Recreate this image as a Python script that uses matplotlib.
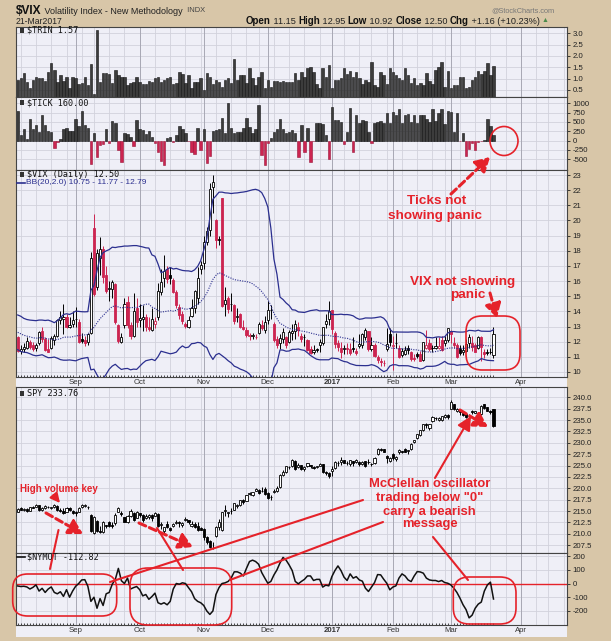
import numpy as np
import pandas as pd
import matplotlib
matplotlib.use("Agg")
import matplotlib.pyplot as plt
from matplotlib.patches import Ellipse, FancyBboxPatch, Rectangle

plt.rcParams['font.family'] = ['Liberation Sans', 'DejaVu Sans']

# trading calendar (bars are placed by trading-day index, like StockCharts)
holidays = ['2016-09-05', '2016-11-24', '2016-12-26', '2017-01-02',
            '2017-01-16', '2017-02-20', '2017-04-14']
days = pd.bdate_range('2016-08-05', '2017-04-28')
days = days[~days.isin(pd.to_datetime(holidays))]

trin = [
    0.94, 1.01, 1.24, 0.87, 0.57, 0.94, 1.09, 1.01, 1.05, 0.90,
    1.31, 1.68, 1.38, 0.84, 1.16, 0.90, 1.09, 0.57, 1.09, 1.05,
    0.75, 0.79, 1.09, 0.72, 1.63, 0.31, 3.15, 0.87, 1.24, 1.24,
    1.20, 0.79, 1.38, 1.16, 1.09, 1.09, 0.72, 0.79, 0.87, 1.09,
    0.87, 0.75, 0.75, 0.90, 0.87, 1.01, 1.09, 0.87, 0.94, 1.01,
    1.09, 0.75, 0.79, 1.31, 1.20, 0.79, 1.16, 0.57, 0.87, 0.87,
    1.01, 0.50, 1.24, 1.09, 0.75, 0.94, 0.87, 0.65, 0.94, 1.01,
    0.79, 1.87, 0.94, 1.16, 1.16, 0.79, 1.46, 1.01, 0.72, 1.09,
    1.28, 0.57, 0.94, 0.65, 0.90, 0.90, 0.84, 0.90, 0.84, 0.87,
    0.84, 1.24, 0.94, 1.31, 1.09, 1.48, 1.53, 1.31, 0.75, 0.57,
    1.46, 1.09, 1.60, 0.57, 0.94, 0.94, 1.05, 1.46, 1.20, 1.34,
    1.09, 1.31, 1.01, 0.75, 0.94, 0.87, 1.72, 0.72, 0.65, 1.31,
    1.16, 0.75, 1.46, 1.31, 1.16, 1.01, 0.94, 1.46, 1.16, 0.79,
    1.05, 0.72, 0.79, 0.72, 1.24, 0.90, 0.75, 1.38, 1.53, 1.72,
    0.65, 1.34, 0.57, 0.72, 0.72, 1.09, 1.09, 0.57, 0.65, 0.94,
    1.09, 1.34, 1.20, 1.34, 1.68, 1.16, 1.57]

tick = [
    800, 150, 300, 50, 580, 300, 420, 230, 680, 420,
    260, 220, -200, -30, 50, 320, 340, 250, 260, 580,
    400, 800, 430, 330, -620, 200, -450, -120, -100, 300,
    -50, 530, 460, -250, -560, 200, 170, 100, -150, 560,
    300, 280, 180, 270, 110, -50, -300, -550, -650, 60,
    100, -30, 160, 380, 300, 200, -20, -300, -350, 340,
    -250, 300, -600, -400, 260, 280, 300, 600, 200, 1000,
    330, 200, 230, 230, 330, 600, 370, 200, 310, 960,
    -380, -650, -60, 60, 230, 300, 590, 310, 200, 230,
    280, 200, -450, 410, -300, 330, -560, -20, 480, 460,
    450, 150, -500, 890, 550, 560, 500, -100, 240, 870,
    -300, 680, 480, 560, 540, 220, -60, 480, 500, 530,
    470, 730, 470, 770, 680, 860, 480, 700, 720, 500,
    700, 480, 690, 700, 580, 500, 840, 520, 750, 850,
    440, 800, 780, 220, 750, -20, 200, -400, -220, -50,
    -260, -30, -20, 30, 590, 380, 160]

# VIX closes before the first bar (needed for the 20-day Bollinger bands)
vix_pre = [13.54, 13.55, 13.04, 12.82, 12.67, 12.44, 11.97, 11.77, 12.74, 12.02,
           12.87, 13.05, 12.83, 12.72, 11.87, 12.44, 13.37, 12.86, 12.42]

vix_open = [
    12.3, 11.4, 11.5, 11.6, 12.0, 11.8, 11.6, 11.9, 12.7, 12.2, 11.5, 11.6, 12.1, 12.4, 13.4, 13.5, 13.6, 13.0, 13.2,
    13.5, 13.3, 12.2, 12.1, 12.0, 12.6, 19.5, 15.6, 17.5, 18.1, 16.4, 15.5, 15.5, 15.8, 13.1, 12.0, 13.1, 14.6, 13.1, 12.4, 14.2,
    13.4, 13.5, 13.6, 13.0, 12.8, 13.2, 13.6, 15.3, 16.2, 16.8, 16.4, 16.1, 15.3, 14.3, 13.8, 13.2, 13.0, 13.7, 14.2, 14.9, 16.8,
    17.2, 18.6, 19.4, 22.2, 20.0, 18.8, 21.5, 14.5, 14.9, 14.5, 14.4, 13.6, 13.8, 13.0, 12.8, 12.4, 12.4, 12.3, 12.6, 13.1, 12.8,
    13.4, 14.1, 13.2, 12.2, 11.9, 12.2, 12.3, 12.0, 12.6, 12.7, 13.0, 12.4, 12.3, 12.1, 11.5, 11.3, 11.5, 11.8, 11.9, 13.2, 13.5,
    14.1, 12.6, 11.9, 11.6, 11.5, 11.6, 11.5, 11.6, 11.4, 11.7, 11.8, 12.3, 12.7, 11.5, 11.8, 11.0, 10.7, 10.6, 11.5, 12.5,
    11.7, 11.9, 11.6, 11.1, 11.2, 11.6, 11.3, 10.9, 11.2, 11.2, 10.8, 11.6, 11.9, 11.6, 11.6, 11.6, 12.1, 11.9, 12.1,
    12.7, 11.9, 11.8, 11.5, 11.3, 11.4, 11.9, 11.9, 11.8, 11.6, 12.3, 11.3, 11.3, 11.3, 11.15]
vix_high = [
    12.4, 11.8, 11.9, 12.3, 12.1, 12.0, 11.9, 12.7, 13.0, 12.3, 12.2, 12.4, 12.5, 13.5, 14.0, 14.5, 13.8, 13.6, 14.0,
    14.3, 13.5, 12.6, 12.4, 12.6, 17.9, 20.4, 18.1, 18.9, 18.3, 17.0, 16.0, 16.1, 15.9, 13.2, 12.6, 14.9, 15.0, 13.3, 15.2, 14.9,
    14.5, 14.4, 13.8, 13.6, 14.2, 13.6, 15.9, 16.8, 17.7, 17.0, 16.9, 16.2, 15.4, 14.5, 14.0, 13.3, 13.7, 14.8, 15.4, 16.9, 17.3,
    19.0, 19.6, 22.5, 23.0, 20.1, 19.0, 21.5, 15.6, 15.0, 15.2, 14.5, 14.2, 13.9, 13.4, 13.0, 12.6, 12.6, 12.5, 13.3, 13.4, 13.7,
    14.7, 14.4, 13.3, 12.4, 12.5, 12.9, 12.4, 12.8, 13.2, 13.4, 13.3, 12.6, 12.5, 12.2, 11.7, 11.8, 11.6, 12.2, 13.0, 13.8, 14.7,
    14.1, 12.7, 12.1, 12.0, 11.8, 11.9, 11.9, 12.3, 11.6, 12.5, 12.6, 12.9, 12.7, 12.3, 11.9, 11.1, 10.9, 10.8, 12.9, 12.9,
    12.4, 12.6, 11.8, 11.6, 11.7, 11.8, 11.4, 11.2, 11.3, 11.4, 12.0, 12.8, 12.2, 11.8, 12.3, 12.3, 12.4, 12.4, 12.9,
    12.8, 12.3, 11.9, 11.8, 11.8, 12.2, 12.5, 12.4, 11.9, 12.4, 12.4, 11.5, 11.5, 11.6, 12.95]
vix_low = [
    11.3, 11.2, 11.3, 11.5, 11.5, 11.4, 11.4, 11.8, 12.0, 11.4, 11.3, 11.5, 11.8, 12.3, 13.2, 12.5, 12.9, 12.9, 13.0,
    13.0, 11.9, 11.9, 11.7, 11.8, 12.5, 15.0, 15.4, 16.4, 15.9, 15.2, 14.7, 14.9, 13.2, 11.9, 11.9, 12.9, 12.9, 12.2, 12.3, 13.0,
    13.0, 12.7, 12.7, 12.7, 12.7, 12.9, 13.4, 15.1, 15.6, 15.9, 15.8, 15.2, 14.2, 13.5, 13.2, 12.9, 12.9, 13.6, 13.9, 14.5, 16.5,
    16.8, 18.4, 19.0, 20.5, 18.2, 18.4, 14.3, 13.7, 13.9, 14.0, 13.2, 13.3, 12.9, 12.8, 12.3, 12.1, 12.2, 12.2, 12.5, 12.8, 12.6,
    13.2, 13.5, 12.0, 11.6, 11.5, 11.9, 11.6, 11.9, 12.1, 12.2, 12.4, 12.0, 11.7, 11.4, 11.2, 11.2, 11.3, 11.3, 11.8, 12.9, 13.1,
    12.5, 11.6, 11.4, 10.9, 11.2, 11.2, 11.1, 11.3, 11.1, 11.6, 11.6, 12.1, 11.4, 11.4, 11.0, 10.6, 10.4, 10.4, 11.4, 11.7,
    10.1, 11.6, 10.9, 11.0, 11.1, 11.2, 10.7, 10.7, 10.9, 10.7, 10.7, 11.5, 11.4, 11.3, 11.5, 11.5, 11.4, 11.7, 12.0,
    11.9, 11.6, 10.9, 11.1, 11.1, 11.3, 11.6, 11.4, 11.3, 11.5, 10.7, 10.9, 11.1, 11.2, 10.92]
vix_close = [
    11.39, 11.50, 11.66, 12.05, 11.68, 11.55, 11.81, 12.64, 12.19, 11.43, 11.34, 12.27, 12.38, 13.45, 13.63, 13.65, 12.94, 13.12, 13.42,
    13.48, 11.98, 12.02, 11.94, 12.51, 17.50, 15.16, 17.85, 18.14, 16.30, 15.37, 15.53, 15.92, 13.30, 12.02, 12.29, 14.50, 13.10, 12.39, 14.02, 13.29,
    13.57, 13.63, 12.99, 12.84, 13.48, 13.38, 15.36, 15.91, 16.69, 16.12, 16.21, 15.28, 14.41, 13.75, 13.34, 13.02, 13.46, 14.24, 15.36, 16.19, 17.06,
    18.56, 19.32, 22.08, 22.51, 18.71, 18.74, 14.38, 14.74, 14.17, 14.48, 13.37, 13.72, 12.96, 12.85, 12.42, 12.41, 12.43, 12.34, 13.15, 12.90, 13.33,
    14.07, 14.12, 12.14, 11.79, 12.22, 12.64, 11.75, 12.64, 12.72, 13.19, 12.79, 12.20, 12.29, 11.45, 11.27, 11.43, 11.44, 11.99, 12.95, 13.37, 14.04,
    12.85, 11.85, 11.67, 11.32, 11.56, 11.49, 11.26, 11.54, 11.23, 11.87, 12.48, 12.78, 11.54, 11.77, 11.07, 10.81, 10.63, 10.58, 11.88, 11.99,
    11.81, 11.93, 10.97, 11.37, 11.45, 11.45, 10.88, 10.85, 11.07, 10.74, 11.97, 11.76, 11.49, 11.57, 11.74, 11.71, 11.47, 12.09, 12.92,
    12.54, 11.81, 10.96, 11.24, 11.45, 11.86, 12.30, 11.66, 11.35, 12.30, 11.63, 11.21, 11.28, 11.34, 12.50]

spy_open = [
    214.9, 215.6, 215.3, 215.5, 215.1, 215.9, 215.9, 216.3, 215.2, 215.6, 216.0, 215.6, 215.8, 216.2, 215.2, 215.1, 214.9, 215.6, 215.1,
    214.9, 214.8, 215.8, 216.1, 216.0, 214.2, 210.2, 212.9, 210.6, 210.4, 211.9, 212.5, 212.0, 212.4, 214.9, 214.6, 213.7, 212.7, 214.0, 214.6, 213.5,
    214.5, 214.1, 213.4, 213.8, 214.1, 214.0, 214.4, 211.9, 210.6, 212.1, 211.3, 211.8, 212.3, 212.5, 212.0, 213.1, 213.0, 211.8, 212.2, 211.8, 211.3,
    211.1, 209.3, 208.4, 207.0, 209.6, 211.4, 210.9, 215.0, 214.5, 215.0, 215.3, 216.1, 216.3, 217.4, 217.3, 218.8, 218.6, 219.5, 219.6, 219.4, 219.9,
    218.9, 218.0, 219.2, 219.5, 220.2, 222.9, 223.6, 224.6, 224.8, 226.1, 224.6, 225.1, 224.2, 224.8, 225.2, 224.6, 224.6, 225.0, 225.3, 223.5, 223.4,
    223.8, 224.4, 225.6, 225.7, 226.2, 225.6, 225.4, 225.9, 225.8, 225.8, 225.4, 225.9, 225.7, 225.4, 225.6, 227.5, 228.7, 228.6, 227.2, 226.1,
    227.6, 226.4, 227.9, 228.1, 228.6, 228.1, 228.6, 230.2, 231.0, 231.8, 232.8, 234.1, 233.3, 234.8, 235.4, 235.0, 234.9, 235.6, 236.0,
    237.5, 238.5, 237.0, 236.9, 236.6, 236.3, 235.8, 236.9, 236.6, 236.5, 236.3, 238.6, 237.9, 237.0, 237.4]
spy_high = [
    215.7, 215.8, 215.6, 215.6, 216.0, 216.1, 216.6, 216.4, 215.8, 216.3, 216.2, 216.0, 216.5, 216.3, 215.7, 215.6, 215.9, 215.9, 215.2,
    215.0, 215.8, 216.6, 216.5, 216.2, 214.3, 213.9, 213.0, 211.8, 212.9, 212.0, 212.9, 212.6, 214.5, 215.8, 215.0, 213.8, 214.1, 215.4, 214.7, 215.1,
    214.6, 214.3, 214.3, 214.3, 214.3, 214.9, 214.5, 212.6, 211.6, 212.8, 211.6, 212.3, 213.0, 212.8, 212.5, 213.6, 213.1, 212.9, 212.6, 212.5, 211.5,
    211.3, 209.6, 208.6, 208.2, 211.7, 213.3, 214.9, 216.3, 214.9, 215.6, 216.8, 216.5, 217.5, 217.6, 218.6, 219.3, 219.2, 220.0, 219.9, 220.2, 220.3,
    219.1, 218.5, 219.8, 220.6, 223.1, 224.1, 225.0, 225.0, 226.5, 226.2, 225.6, 225.2, 225.0, 225.6, 225.2, 224.8, 224.9, 225.6, 225.4, 223.8, 223.6,
    224.9, 225.9, 225.9, 226.8, 226.3, 226.0, 226.3, 226.0, 226.4, 226.0, 226.0, 226.0, 226.4, 225.6, 226.9, 228.8, 228.8, 228.7, 227.3, 226.8,
    227.7, 227.0, 228.6, 228.3, 228.8, 228.5, 230.0, 230.7, 232.0, 232.9, 234.1, 234.3, 234.2, 235.8, 235.6, 235.7, 235.9, 236.3, 236.3,
    239.3, 238.5, 237.6, 237.1, 236.8, 236.5, 236.4, 237.1, 237.0, 236.5, 238.3, 238.6, 237.9, 237.2, 237.4]
spy_low = [
    214.8, 215.2, 215.0, 214.8, 215.0, 215.6, 215.8, 215.1, 215.0, 215.4, 215.7, 215.4, 215.7, 215.0, 214.8, 214.4, 214.8, 215.1, 214.4,
    213.9, 214.7, 215.6, 215.8, 215.4, 210.5, 210.0, 210.4, 210.3, 210.2, 211.3, 211.6, 211.3, 211.9, 214.8, 214.0, 212.5, 212.4, 213.8, 212.8, 213.4,
    213.6, 212.7, 213.3, 213.3, 212.9, 213.9, 211.5, 211.1, 209.9, 211.3, 210.6, 211.6, 212.1, 211.6, 211.6, 212.9, 212.1, 211.4, 211.3, 210.6, 210.8,
    208.6, 207.8, 206.9, 206.7, 209.4, 210.9, 210.7, 214.0, 213.6, 214.3, 215.2, 215.7, 216.1, 216.6, 217.3, 218.5, 218.3, 219.4, 218.7, 219.2, 218.6,
    217.6, 217.5, 219.0, 219.3, 220.1, 222.6, 223.4, 224.2, 224.6, 224.0, 224.5, 224.0, 223.9, 224.7, 224.5, 224.2, 224.5, 224.8, 223.4, 222.9, 222.2,
    222.8, 224.3, 225.0, 225.1, 225.5, 225.1, 225.0, 224.9, 225.6, 225.0, 225.2, 224.7, 225.3, 224.9, 225.4, 227.4, 228.1, 227.9, 225.6, 225.8,
    226.2, 226.0, 227.6, 227.7, 227.9, 227.6, 228.5, 229.9, 230.8, 231.4, 232.6, 233.2, 232.9, 234.6, 235.1, 234.8, 234.8, 235.5, 235.3,
    237.4, 237.1, 236.8, 236.1, 235.9, 235.4, 235.2, 236.3, 236.5, 235.7, 236.2, 237.4, 236.9, 236.4, 233.5]
spy_close = [
    215.50, 215.35, 215.48, 214.94, 215.95, 215.76, 216.39, 215.26, 215.67, 216.16, 215.84, 215.83, 216.27, 215.15, 215.00, 214.59, 215.66, 215.30, 214.68,
    214.69, 215.67, 216.33, 216.31, 215.81, 210.58, 213.64, 210.53, 210.45, 212.58, 211.77, 211.81, 211.82, 214.22, 215.58, 214.39, 212.64, 213.97, 215.04, 213.08, 214.70,
    214.18, 213.08, 214.03, 214.18, 213.44, 214.56, 211.83, 212.11, 211.41, 211.52, 210.78, 212.11, 212.68, 212.28, 212.38, 213.29, 212.57, 212.14, 211.57, 210.94, 210.95,
    209.41, 208.14, 207.18, 206.95, 211.55, 212.51, 214.78, 215.32, 214.82, 214.99, 216.68, 216.27, 217.39, 216.90, 218.55, 218.98, 219.10, 219.92, 218.88, 219.31, 218.78,
    217.97, 218.08, 219.40, 220.10, 223.00, 223.55, 224.91, 224.65, 226.16, 224.28, 225.21, 224.14, 224.63, 225.50, 224.87, 224.48, 224.81, 225.37, 223.50, 223.45, 222.63,
    224.34, 225.68, 225.50, 226.31, 225.56, 225.56, 226.20, 225.63, 226.15, 225.35, 225.85, 225.01, 225.84, 225.25, 226.70, 228.67, 228.43, 228.07, 226.65, 226.63,
    226.72, 226.87, 228.44, 228.03, 228.04, 228.34, 229.70, 230.61, 231.87, 232.80, 234.02, 233.82, 234.19, 235.59, 235.38, 235.54, 235.84, 236.21, 235.57,
    238.88, 237.37, 237.52, 236.81, 236.10, 235.66, 235.96, 236.79, 236.91, 236.00, 238.05, 237.58, 237.03, 236.77, 233.76]

nymot = [
    -18, -22, -20, -25, -40, -28, -10, -55, -35, -65,
    -40, -25, -65, -75, -60, -94, -45, -100, -55, -20,
    0, 26, 28, -20, -130, -100, -180, -110, -160, -75,
    -65, -5, 30, 110, 20, 0, 40, -40, -30, -22,
    -45, -90, -80, -115, -95, -70, -140, -150, -140, -155,
    -130, -40, 0, -5, 5, 0, -30, -60, -110, -130,
    -140, -160, -200, -225, -200, -80, -30, 0, 5, 15,
    40, 85, 85, 75, 55, 110, 160, 170, 160, 140,
    80, 40, 2, 15, 62, 99, 150, 190, 170, 135,
    94, 15, -2, 15, 30, 55, 55, 22, 30, 30,
    -26, -12, -17, 50, 94, 128, 94, 46, 22, 70,
    39, 50, 26, 17, -34, -58, -26, 7, 65, 63,
    31, 2, -46, -26, -17, 39, 70, 55, 26, 14,
    55, 87, 84, 75, 39, 26, 22, 22, 14, 22,
    7, 2, -10, -34, -65, -106, -154, -190, -250, -230,
    -180, -150, -135, -55, -10, 10, -112.82]

# ---------------------------------------------------------------- styling
W, H = 611, 641
L, R = 16, 567
TAN = '#d8c6a8'
PANEL = '#efeff7'
GRID = '#d2d2dc'
GRID_DARK = '#a8a8b4'
RED = '#e5222a'
CRIMSON = '#cc2450'
NAVY = '#2b2f8f'

x = np.arange(len(vix_close))
month_pos = [i for i in range(1, len(days)) if days[i].month != days[i - 1].month]
month_lab = ['2017' if days[i].month == 1 else days[i].strftime('%b') for i in month_pos]
week_pos = [i for i in range(1, len(days)) if days[i].weekday() < days[i - 1].weekday()]

fig = plt.figure(figsize=(W / 100, H / 100), dpi=100, facecolor=TAN)

# light strips behind the month-label rows
for top, bot in [(377, 388), (625, 637)]:
    fig.add_artist(Rectangle((L / W, 1 - bot / H), (R - L) / W, (bot - top) / H,
                             transform=fig.transFigure, facecolor=PANEL,
                             edgecolor='none', zorder=-1))


def panel(top, bottom, ylim, yticks, fmt):
    ax = fig.add_axes([L / W, 1 - bottom / H, (R - L) / W, (bottom - top) / H])
    ax.set_facecolor(PANEL)
    ax.set_xlim(-0.56, 180.1)
    ax.set_ylim(*ylim)
    ax.yaxis.tick_right()
    ax.set_yticks(yticks)
    ax.set_yticklabels([fmt.format(v) for v in yticks])
    ax.tick_params(axis='y', direction='out', length=2.5, width=0.6, pad=1.5,
                   labelsize=5.6, colors='#222222')
    ax.set_xticks([])
    for v in yticks:
        ax.axhline(v, color=GRID, lw=0.6, zorder=0)
    for i in week_pos:
        ax.axvline(i, color=GRID, lw=0.6, zorder=0)
    for i in month_pos:
        ax.axvline(i, color=GRID_DARK, lw=0.7, zorder=0)
    for s in ax.spines.values():
        s.set_color('#444444')
        s.set_linewidth(0.8)
    return ax


def month_axis(ax):
    ax.set_xticks(month_pos)
    ax.set_xticklabels(month_lab)
    ax.tick_params(axis='x', length=0, pad=1.8, labelsize=5.6, colors='#333333')
    ax.get_xticklabels()[month_lab.index('2017')].set_fontweight('bold')
    ax.set_xticks(x, minor=True)
    ax.tick_params(axis='x', which='minor', direction='in', length=1.5, width=0.5)


def candles(ax, o, h, l, c, edge, face):
    o, h, l, c = map(np.asarray, (o, h, l, c))
    ax.vlines(x, l, h, colors=edge, lw=0.7, zorder=2)
    ax.bar(x, np.maximum(np.abs(c - o), 0.02), bottom=np.minimum(o, c), width=0.7,
           color=face, edgecolor=edge, linewidth=0.6, zorder=3)


# TRIN
ax_trin = panel(27, 97, (0.19, 3.28), [0.5, 1.0, 1.5, 2.0, 2.5, 3.0], '{:.1f}')
base = ax_trin.get_ylim()[0]
ax_trin.bar(x, np.array(trin) - base, bottom=base, width=0.8, color='#3c3c3c',
            edgecolor='#111111', linewidth=0.4, zorder=2)

# TICK
ax_tick = panel(97, 170, (-787, 1170), [-500, -250, 0, 250, 500, 750, 1000], '{:d}')
tick_arr = np.array(tick)
ax_tick.bar(x, tick_arr, width=0.8,
            color=np.where(tick_arr < 0, CRIMSON, '#3c3c3c'),
            edgecolor=np.where(tick_arr < 0, '#9a1438', '#111111'), linewidth=0.4, zorder=2)

# VIX with Bollinger bands
ax_vix = panel(170, 377, (9.67, 23.33), list(range(10, 24)), '{:d}')
month_axis(ax_vix)
closes = pd.Series(vix_pre + vix_close)
mid = closes.rolling(20).mean().values[len(vix_pre):]
sd = closes.rolling(20).std(ddof=0).values[len(vix_pre):]
ax_vix.plot(x, mid + 2 * sd, color=NAVY, lw=0.9, zorder=4)
ax_vix.plot(x, mid - 2 * sd, color=NAVY, lw=0.9, zorder=4)
ax_vix.plot(x, mid, color=NAVY, lw=0.8, ls=(0, (1, 1.2)), zorder=4)
vc = np.array(vix_close)
prev = np.r_[vix_pre[-1], vc[:-1]]
vedge = np.where(vc < prev, CRIMSON, 'black')
vface = np.where(vc > np.array(vix_open), 'white', vedge)
candles(ax_vix, vix_open, vix_high, vix_low, vix_close, vedge, vface)

# SPY
spy_ticks = [207.5 + 2.5 * k for k in range(14)]
ax_spy = panel(387, 553, (205.8, 242.25), spy_ticks, '{:.1f}')
sc = np.array(spy_close)
sface = np.where(sc > np.array(spy_open), 'white', 'black')
candles(ax_spy, spy_open, spy_high, spy_low, spy_close, 'black', sface)

# McClellan oscillator
ax_ny = panel(553, 625, (-302, 222), [-200, -100, 0, 100, 200], '{:d}')
month_axis(ax_ny)
ax_ny.axhline(0, color=RED, lw=1.0, zorder=2)
ax_ny.plot(x, nymot, color='#111111', lw=1.1, zorder=3)

# ---------------------------------------------------------------- texts and callouts
ov = fig.add_axes([0, 0, 1, 1], zorder=10)
ov.set_xlim(0, W)
ov.set_ylim(H, 0)
ov.axis('off')
ov.patch.set_alpha(0)
renderer = fig.canvas.get_renderer()


def run_text(x0, y0, pieces):
    for s, size, weight, color in pieces:
        t = ov.text(x0, y0, s, size=size, weight=weight, color=color, va='center', ha='left')
        x0 += t.get_window_extent(renderer=renderer).width


run_text(16, 11, [('$VIX', 8.6, 'bold', '#111111'),
                  (' Volatility Index - New Methodology ', 6.5, 'normal', '#222222'),
                  (' INDX', 5.4, 'normal', '#444444')])
ov.text(555, 11, '@StockCharts.com', size=5.3, color='#777777', ha='right', va='center')
ov.text(16, 21, '21-Mar2017', size=6.2, color='#222222', va='center')
run_text(246, 21, [('Open', 7, 'bold', '#111111'), (' 11.15 ', 6.6, 'normal', '#222222'),
                   ('High', 7, 'bold', '#111111'), (' 12.95 ', 6.6, 'normal', '#222222'),
                   ('Low', 7, 'bold', '#111111'), (' 10.92 ', 6.6, 'normal', '#222222'),
                   ('Close', 7, 'bold', '#111111'), (' 12.50 ', 6.6, 'normal', '#222222'),
                   ('Chg', 7, 'bold', '#111111'), (' +1.16 (+10.23%) ', 6.6, 'normal', '#222222'),
                   ('\u25b2', 5, 'normal', '#4a8a4a')])

mono = dict(family='DejaVu Sans Mono', size=6.1, color='#111111', va='center')
ov.text(27, 30, '$TRIN 1.57', **mono)
ov.text(27, 102.7, '$TICK 160.00', **mono)
ov.text(27, 174.7, '$VIX (Daily) 12.50', **mono)
ov.text(27, 393.3, 'SPY 233.76', **mono)
ov.text(27, 557.3, '$NYMOT -112.82', **mono)
for y in (30, 102.7, 174.7, 393.3):
    ov.add_patch(Rectangle((19.5, y - 2.5), 4.5, 5, facecolor='#333333', edgecolor='none'))
ov.plot([17, 25], [183, 183], color=NAVY, lw=1.2)
ov.text(26.5, 183, 'BB(20,2.0) 10.75 - 11.77 - 12.79', size=6, color=NAVY, va='center')
ov.plot([17, 25], [557.3, 557.3], color='#111111', lw=1.2)

big = dict(color=RED, weight='bold', ha='center', va='center')
ov.text(436.5, 201.5, 'Ticks not', size=9.7, **big)
ov.text(435.5, 215.5, 'showing panic', size=9.7, **big)
ov.text(462.5, 281.5, 'VIX not showing', size=9.7, **big)
ov.text(468, 295, 'panic', size=9.7, **big)
ov.text(59, 488.5, 'High volume key', size=7, **big)
for y, s in [(484.3, 'McClellan oscillator'), (498.3, 'trading below "0"'),
             (511.7, 'carry a bearish'), (524.5, 'message')]:
    ov.text(429.5, y, s, size=9.4, **big)

ov.add_patch(Ellipse((504, 141), 28, 29, facecolor='none', edgecolor=RED, lw=1.2))
for (x0, y0, w, h, r) in [(466, 316, 54, 54, 16), (12.7, 574, 104, 42, 15),
                          (130, 568, 101.7, 57, 18), (453.3, 577, 62.7, 47, 16)]:
    ov.add_patch(FancyBboxPatch((x0, y0), w, h, boxstyle='round,pad=0,rounding_size=%g' % r,
                                facecolor='none', edgecolor=RED, lw=1.2))


def dashed_arrow(p0, p1):
    ov.annotate('', xy=p1, xytext=p0,
                arrowprops=dict(arrowstyle='-|>,head_length=0.7,head_width=0.4', color=RED,
                                lw=2.2, linestyle=(0, (2.4, 1.3)), shrinkA=0, shrinkB=0,
                                mutation_scale=12))


def solid_arrow(p0, p1, scale=12):
    ov.annotate('', xy=p1, xytext=p0,
                arrowprops=dict(arrowstyle='-|>,head_length=0.7,head_width=0.35', color=RED,
                                lw=1.5, shrinkA=0, shrinkB=0, mutation_scale=scale))


dashed_arrow((451, 194), (490, 157))
dashed_arrow((490, 293), (497, 318))
dashed_arrow((46, 513), (83, 534))
dashed_arrow((139, 523), (193, 547))
dashed_arrow((460, 410), (488, 427))
solid_arrow((53.5, 495), (60, 503), scale=8)
solid_arrow((435, 478), (471, 416))
for (p0, p1) in [((58.5, 530), (50, 569)), ((157, 528), (183, 570)),
                 ((363, 500), (110, 582)), ((383, 522), (230, 580)),
                 ((433, 537), (468, 580))]:
    ov.plot([p0[0], p1[0]], [p0[1], p1[1]], color=RED, lw=1.5, solid_capstyle='round')

fig.savefig('out.png', dpi=100, facecolor=TAN)
